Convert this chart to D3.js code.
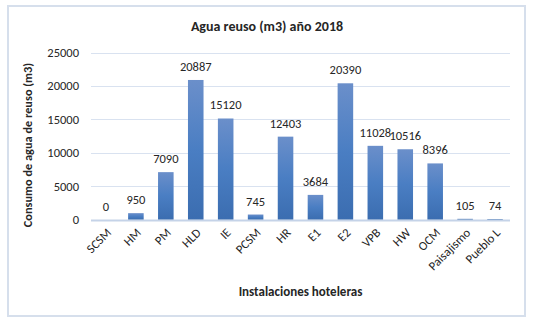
<!DOCTYPE html>
<html>
<head>
<meta charset="utf-8">
<script src="https://cdn.jsdelivr.net/npm/d3@7"></script>
<style>
  body { margin: 0; background: #fff; }
  text { font-family: Carlito, Lato, "Liberation Sans", sans-serif; fill: #262626; }
</style>
</head>
<body>
<svg id="chart" width="534" height="325"></svg>
<script>
// data
var categories = ["SCSM", "HM", "PM", "HLD", "IE", "PCSM", "HR", "E1", "E2", "VPB", "HW", "OCM", "Paisajismo", "Pueblo L"];
var consumo = [0, 950, 7090, 20887, 15120, 745, 12403, 3684, 20390, 11028, 10516, 8396, 105, 74];
var yTicks = [0, 5000, 10000, 15000, 20000, 25000];

var svg = d3.select("#chart");
var width = +svg.attr("width"), height = +svg.attr("height");
var margin = {top: 52.5, right: 24, bottom: 105.5, left: 91};

// outer frame
svg.append("rect")
  .attr("x", 8).attr("y", 6)
  .attr("width", 517).attr("height", 310)
  .attr("fill", "#fff")
  .attr("stroke", "#d6dfec")
  .attr("stroke-width", 2);

var defs = svg.append("defs");
var grad = defs.append("linearGradient")
  .attr("id", "barFill")
  .attr("x1", 0).attr("y1", 0).attr("x2", 0).attr("y2", 1);
grad.append("stop").attr("offset", "0%").attr("stop-color", "#6b8fca");
grad.append("stop").attr("offset", "50%").attr("stop-color", "#4a7ec3");
grad.append("stop").attr("offset", "100%").attr("stop-color", "#3b6db0");

var x = d3.scaleBand()
  .domain(categories)
  .range([margin.left, width - margin.right])
  .paddingInner(0.48)
  .paddingOuter(0.24);

var y = d3.scaleLinear()
  .domain([0, 25000])
  .range([height - margin.bottom, margin.top]);

// gridlines
svg.append("g")
  .selectAll("line")
  .data(yTicks)
  .join("line")
  .attr("x1", margin.left).attr("x2", width - margin.right)
  .attr("y1", function(d) { return Math.round(y(d)) + 0.5; })
  .attr("y2", function(d) { return Math.round(y(d)) + 0.5; })
  .attr("stroke", function(d) { return d === 0 ? "#c5d3e8" : "#d9e2f0"; })
  .attr("stroke-width", function(d) { return d === 0 ? 2 : 1; });

// y axis labels
var yAxis = d3.axisLeft(y).tickValues(yTicks).tickSize(0).tickPadding(12).tickFormat(d3.format("d"));
svg.append("g")
  .attr("transform", "translate(" + margin.left + ",0)")
  .call(yAxis)
  .call(function(g) { g.select(".domain").remove(); })
  .selectAll("text")
  .style("font-size", "12.5px")
  .attr("fill", "#404040");

// bars
svg.append("g")
  .selectAll("rect")
  .data(consumo)
  .join("rect")
  .attr("x", function(d, i) { return x(categories[i]); })
  .attr("width", x.bandwidth())
  .attr("y", function(d) { return y(d); })
  .attr("height", function(d) { return y(0) - y(d); })
  .attr("fill", "url(#barFill)");

// value labels
svg.append("g")
  .selectAll("text")
  .data(consumo)
  .join("text")
  .attr("x", function(d, i) { return x(categories[i]) + x.bandwidth() / 2; })
  .attr("y", function(d) { return y(d) - 9; })
  .attr("text-anchor", "middle")
  .style("font-size", "12.5px")
  .attr("fill", "#404040")
  .text(function(d) { return d; });

// x axis labels, rotated
var xAxis = d3.axisBottom(x).tickSize(0).tickPadding(0);
svg.append("g")
  .attr("transform", "translate(0," + y(0) + ")")
  .call(xAxis)
  .call(function(g) { g.select(".domain").remove(); })
  .selectAll("text")
  .attr("text-anchor", "end")
  .attr("dy", 0)
  .attr("transform", "translate(6,14) rotate(-45)")
  .style("font-size", "12.5px")
  .attr("fill", "#404040");

// titles
svg.append("text")
  .attr("x", 267).attr("y", 31)
  .attr("text-anchor", "middle")
  .style("font-size", "14px")
  .style("font-weight", "bold")
  .text("Agua reuso (m3) año 2018");

svg.append("text")
  .attr("x", (margin.left + width - margin.right) / 2).attr("y", 296)
  .attr("text-anchor", "middle")
  .style("font-size", "13px")
  .style("font-weight", "bold")
  .text("Instalaciones hoteleras");

svg.append("text")
  .attr("transform", "translate(32,145) rotate(-90)")
  .attr("text-anchor", "middle")
  .style("font-size", "12.3px")
  .style("font-weight", "bold")
  .text("Consumo de agua de reuso (m3)");
</script>
</body>
</html>
